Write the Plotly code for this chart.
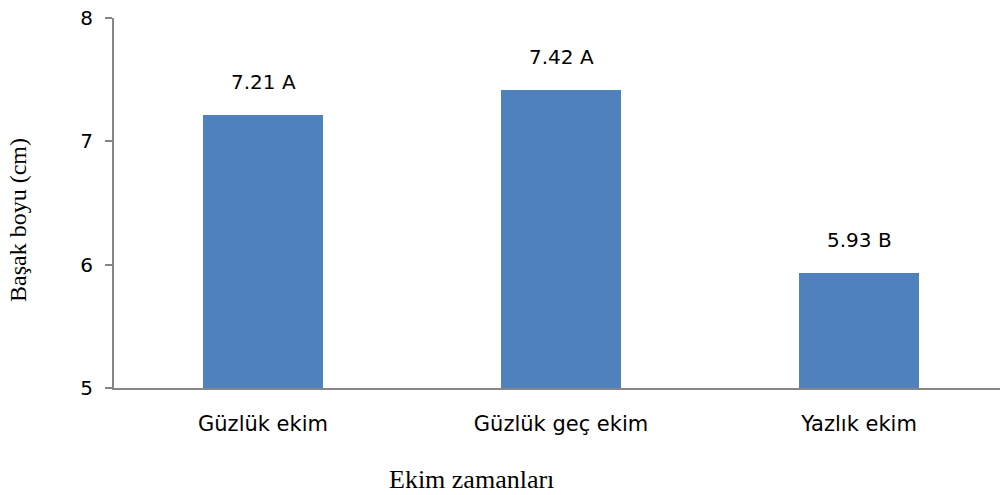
import plotly.graph_objects as go

categories = ["Güzlük ekim", "Güzlük geç ekim", "Yazlık ekim"]
values = [7.21, 7.42, 5.93]
groups = ["A", "A", "B"]
y_ticks = [5, 6, 7, 8]

bar_color = "#4F81BD"
axis_color = "#868686"
sans = "DejaVu Sans, Open Sans, sans-serif"
serif = "Liberation Serif, Times New Roman, serif"

fig = go.Figure(
    go.Bar(
        x=list(range(len(categories))),
        y=values,
        width=0.4,
        marker=dict(color=bar_color, line=dict(width=0)),
        hoverinfo="skip",
    )
)

# value + significance letter above each bar
for i, (v, g) in enumerate(zip(values, groups)):
    fig.add_annotation(
        x=i, y=v, text=f"{v:.2f} {g}", showarrow=False,
        yshift=33, font=dict(family=sans, size=20, color="#000"),
    )

fig.add_annotation(
    text="Başak boyu (cm)", xref="paper", yref="paper",
    x=-0.1084, y=0.454, xanchor="center", yanchor="middle",
    textangle=-90, showarrow=False,
    font=dict(family=serif, size=24, color="#000"),
)
fig.add_annotation(
    text="Ekim zamanları", xref="paper", yref="paper",
    x=0.4035, y=-0.246, xanchor="center", yanchor="middle",
    showarrow=False,
    font=dict(family=serif, size=26, color="#000"),
)

fig.update_layout(
    width=1000, height=495,
    margin=dict(l=114, r=0, t=18, b=107),
    plot_bgcolor="white", paper_bgcolor="white",
    showlegend=False,
    bargap=0,
    xaxis=dict(
        range=[-0.5, 2.473],
        tickmode="array", tickvals=list(range(len(categories))), ticktext=categories,
        showgrid=False, zeroline=False,
        showline=True, linecolor=axis_color, linewidth=2,
        ticks="", tickfont=dict(family=sans, size=21, color="#000"),
        ticklabelstandoff=16,
    ),
    yaxis=dict(
        range=[5, 8],
        tickmode="array", tickvals=y_ticks,
        showgrid=False, zeroline=False,
        showline=True, linecolor=axis_color, linewidth=2,
        ticks="outside", ticklen=7, tickcolor=axis_color, tickwidth=2,
        tickfont=dict(family=sans, size=20, color="#000"),
        ticklabelstandoff=8,
    ),
)

fig.write_html("out.html")
